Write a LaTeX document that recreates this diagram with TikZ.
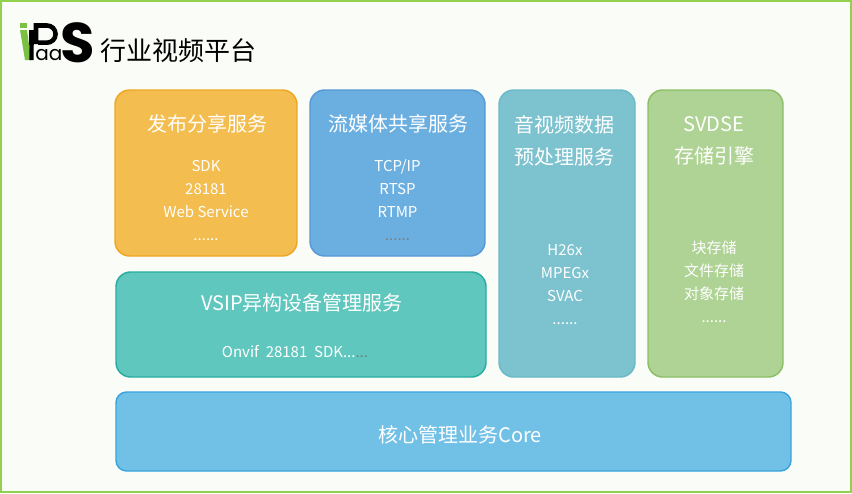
\documentclass[tikz,border=0pt]{standalone}
\usepackage{fontspec}
\setmainfont{Noto Sans CJK SC}
\newfontfamily\logofont{Poppins}
\definecolor{bgc}{HTML}{FAFCF7}
\definecolor{edgegreen}{HTML}{92D050}
\definecolor{fabuF}{HTML}{F3BD4F}
\definecolor{fabuD}{HTML}{EFA623}
\definecolor{liuF}{HTML}{6BAFE1}
\definecolor{liuD}{HTML}{5798D6}
\definecolor{yinF}{HTML}{7DC2CF}
\definecolor{yinD}{HTML}{6CB9CA}
\definecolor{svdF}{HTML}{AED394}
\definecolor{svdD}{HTML}{8BBF66}
\definecolor{vsipF}{HTML}{5FC7BE}
\definecolor{vsipD}{HTML}{27ADA1}
\definecolor{coreF}{HTML}{71C1E7}
\definecolor{coreD}{HTML}{3BA4DE}
\definecolor{dotgray}{HTML}{7F7F7F}
\definecolor{logogreen}{HTML}{7AC143}
\begin{document}
\begin{tikzpicture}[x=0.75pt,y=-0.75pt,
  panel/.style={line width=1.1pt, rounded corners=11pt},
  head/.style={white, inner sep=0pt, font=\fontsize{15}{24}\selectfont, align=center},
  item/.style={white, inner sep=0pt, font=\fontsize{11.25}{17.25}\selectfont, align=center}]
    \useasboundingbox (0,0) rectangle (852,493);
    \draw[fill=bgc, draw=edgegreen, line width=1.2pt] (0.8,0.8) rectangle (851.2,492.2);
    % logo
    \fill[logogreen] (20,23) rectangle (27,27.5);
    \fill[logogreen] (20,30) -- (27,30) -- (31,60) -- (25,60) -- cycle;
    \fill[black] (29,30) -- (34,30) -- (33.5,60) -- (29.5,60) -- cycle;
    \draw[line width=3.4pt] (36,44) -- (36,25.5) -- (47,25.5) arc (-90:90:8.6) -- (38,42.7);
    \node (aa) [inner sep=0pt, anchor=base west] at (35,60) {\logofont\fontsize{15}{18}\selectfont aa};
    \node (ess) [inner sep=0pt, anchor=base west] at (60,62) {\logofont\bfseries\fontsize{42}{44}\selectfont S};
    \node (title) [inner sep=0pt, anchor=west] at (100,51) {\fontsize{19.5}{22}\selectfont 行业视频平台};
    % panels
    \draw[panel, fill=fabuF, draw=fabuD] (115,90) rectangle (297,256);
    \draw[panel, fill=liuF, draw=liuD] (310,90) rectangle (485,256);
    \draw[panel, fill=yinF, draw=yinD] (499,90) rectangle (635,377);
    \draw[panel, fill=svdF, draw=svdD] (648,90) rectangle (783,377);
    \draw[panel, fill=vsipF, draw=vsipD] (116,272) rectangle (486,377);
    \draw[panel, rounded corners=8pt, fill=coreF, draw=coreD] (116,392) rectangle (791,471);
    % texts
    \node (fabu) [head] at (207,124) {发布分享服务};
    \node (fabulist) [item] at (206,200) {SDK\\28181\\Web Service\\......};
    \node (liu) [head] at (398,124) {流媒体共享服务};
    \node (liulist) [item] at (397.5,200) {TCP/IP\\RTSP\\RTMP\\\textcolor{dotgray}{......}};
    \node (yin) [head] at (564,141) {音视频数据\\预处理服务};
    \node (yinlist) [item] at (565,285) {H26x\\MPEGx\\SVAC\\......};
    \node (svd) [head] at (714,141) {SVDSE\\存储引擎};
    \node (svdlist) [item] at (714,282) {块存储\\文件存储\\对象存储\\......};
    \node (vsip) [head] at (302,303) {VSIP异构设备管理服务};
    \node (vsiplist) [item] at (295,352) {Onvif\ \ 28181\ \ SDK...\textcolor{dotgray}{...}};
    \node (core) [head] at (460,435) {核心管理业务Core};
\end{tikzpicture}
\end{document}
